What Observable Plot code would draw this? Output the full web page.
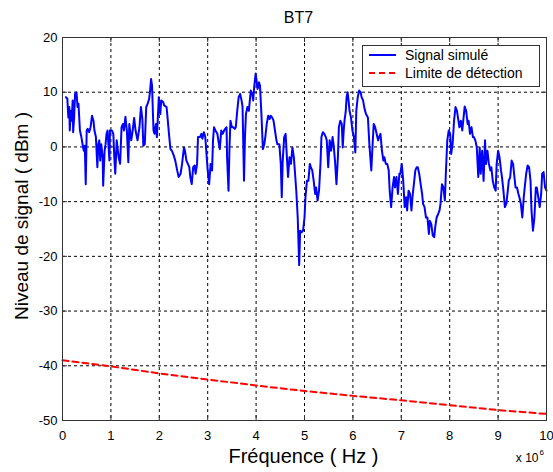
<!DOCTYPE html>
<html>
<head>
<meta charset="utf-8">
<script src="https://cdn.jsdelivr.net/npm/d3@7"></script>
<script src="https://cdn.jsdelivr.net/npm/@observablehq/plot@0.6"></script>
<style>
  html, body { margin: 0; padding: 0; background: #fff; }
  #wrap { position: relative; width: 553px; height: 472px; font-family: "Liberation Sans", Arial, sans-serif; }
  #legend { position: absolute; left: 362px; top: 45px; width: 178px; height: 42px; box-sizing: border-box;
            border: 1px solid #333; background: #fff; font-size: 14px; color: #000; }
  #legend .row { position: absolute; left: 0; height: 18px; display: flex; align-items: center; white-space: nowrap; }
  #legend svg { margin-left: 6px; margin-right: 9px; }
</style>
</head>
<body>
<div id="wrap"><div id="chart"></div><div id="legend"></div></div>
<script>
const title = "BT7";
const xLabel = "Fréquence ( Hz )";
const yLabel = "Niveau de signal ( dBm )";
const xExponent = ["x 10", "6"];
const xTicks = [0, 1, 2, 3, 4, 5, 6, 7, 8, 9, 10];
const yTicks = [-50, -40, -30, -20, -10, 0, 10, 20];
const seriesNames = ["Signal simulé", "Limite de détection"];
const seriesColors = ["#0000ff", "#ff0000"];

// frequency in units of 10^6 Hz
const signalFreq = [
  0.07,0.10,0.12,0.14,0.15,0.17,0.19,0.21,0.22,0.24,
  0.26,0.29,0.31,0.33,0.36,0.39,0.42,0.44,0.46,0.48,
  0.50,0.52,0.55,0.58,0.61,0.64,0.66,0.69,0.72,0.74,
  0.76,0.78,0.80,0.83,0.84,0.87,0.89,0.91,0.93,0.97,
  0.98,1.02,1.05,1.07,1.09,1.12,1.16,1.19,1.22,1.25,
  1.27,1.30,1.33,1.36,1.38,1.42,1.45,1.48,1.51,1.55,
  1.59,1.62,1.65,1.67,1.70,1.73,1.76,1.79,1.81,1.83,
  1.85,1.88,1.90,1.93,1.95,1.97,1.99,2.02,2.04,2.08,
  2.10,2.15,2.17,2.20,2.23,2.26,2.30,2.33,2.37,2.40,
  2.44,2.47,2.51,2.53,2.56,2.59,2.62,2.64,2.67,2.70,
  2.73,2.75,2.78,2.80,2.84,2.87,2.89,2.92,2.95,2.98,
  3.00,3.03,3.06,3.09,3.11,3.13,3.16,3.20,3.22,3.25,
  3.28,3.31,3.34,3.36,3.39,3.40,3.43,3.45,3.47,3.50,
  3.53,3.56,3.58,3.61,3.64,3.67,3.70,3.72,3.75,3.77,
  3.79,3.82,3.85,3.89,3.92,3.94,3.96,3.99,4.01,4.03,
  4.06,4.08,4.11,4.14,4.17,4.19,4.22,4.25,4.28,4.30,
  4.33,4.36,4.39,4.42,4.44,4.48,4.51,4.53,4.55,4.58,
  4.61,4.64,4.66,4.69,4.72,4.75,4.78,4.80,4.83,4.86,
  4.89,4.91,4.94,4.97,5.00,5.02,5.05,5.08,5.11,
  5.13,5.16,5.19,5.22,5.24,5.27,5.30,5.33,5.35,5.38,
  5.41,5.44,5.46,5.49,5.52,5.55,5.58,5.60,5.63,5.66,
  5.69,5.71,5.74,5.77,5.79,5.81,5.83,5.85,5.87,5.89,
  5.91,5.93,5.96,5.99,6.02,6.05,6.07,6.10,6.13,6.16,
  6.18,6.21,6.24,6.27,6.31,6.34,6.38,6.40,6.43,6.46,
  6.49,6.52,6.54,6.57,6.60,6.63,6.65,6.68,6.71,6.74,
  6.76,6.79,6.82,6.85,6.87,6.90,6.93,6.96,6.98,7.01,
  7.04,7.07,7.10,7.12,7.15,7.18,7.21,7.23,7.26,7.29,
  7.32,7.34,7.37,7.40,7.43,7.45,7.48,7.51,7.54,7.57,
  7.59,7.62,7.65,7.68,7.70,7.73,7.76,7.79,7.81,7.84,
  7.87,7.90,7.92,7.95,7.98,8.01,8.03,8.06,8.09,8.12,
  8.15,8.17,8.20,8.23,8.26,8.28,8.31,8.34,8.37,8.39,
  8.42,8.45,8.48,8.50,8.53,8.56,8.59,8.62,8.64,8.67,
  8.70,8.73,8.75,8.78,8.81,8.84,8.86,8.89,8.92,8.95,
  8.97,9.00,9.03,9.06,9.08,9.11,9.14,9.17,9.20,9.22,
  9.25,9.28,9.31,9.33,9.36,9.39,9.42,9.44,9.47,9.50,
  9.53,9.55,9.58,9.61,9.64,9.67,9.69,9.72,9.75,9.78,
  9.80,9.83,9.86,9.89,9.91,9.94,9.97,10.00
];

// simulated signal level in dBm
const signalLevel = [
  9.1,8.8,5.4,7.3,3.0,6.6,4.8,8.5,2.7,5.4,
  9.7,10.0,7.3,7.9,3.0,1.8,0.2,-0.7,0.2,-6.8,
  3.0,3.3,2.7,3.6,5.7,4.8,3.0,1.8,-3.7,0.5,
  1.2,-2.5,0.5,-1.9,-7.1,-0.7,0.5,2.4,3.0,-2.5,
  3.0,3.0,2.4,-1.9,-4.9,1.2,-1.9,-3.1,3.6,4.2,
  3.0,5.5,3.0,-2.8,4.2,1.2,3.0,5.3,3.0,1.2,
  3.6,7.3,5.1,0.2,0.5,7.3,7.9,8.8,10.3,12.4,
  11.2,3.0,2.4,4.2,1.8,5.4,9.1,6.0,8.5,8.2,
  7.6,7.3,5.4,2.4,-0.4,-0.7,-1.6,-2.5,-4.3,-5.5,
  -4.9,-3.1,-0.1,-0.7,-2.5,-3.1,-3.7,-5.5,-6.8,-3.7,
  -3.4,-4.9,-3.1,1.8,1.8,2.4,1.5,2.7,1.8,-1.9,
  -4.3,-6.8,-3.1,-4.3,1.2,3.6,3.0,2.4,1.2,-0.4,
  3.0,2.4,3.0,3.3,3.6,-1.9,-8.0,-0.1,4.8,3.6,
  3.6,3.3,3.6,6.6,9.1,9.7,8.5,7.3,-6.2,1.8,
  6.0,7.3,6.6,10.3,9.7,8.5,10.9,13.4,12.1,10.6,
  11.8,11.2,6.0,-0.4,0.5,1.8,4.2,5.7,5.1,5.7,
  5.4,4.8,3.0,1.2,0.5,0.5,-3.1,-9.2,-2.5,1.8,
  2.4,-2.5,-5.5,-1.9,-3.1,-0.1,-1.9,-4.3,-8.0,-12.9,
  -21.6,-15.3,-15.6,-15.3,-12.9,-9.2,-6.2,-6.2,-3.1,
  -3.7,-4.3,-6.2,-8.6,-7.4,-9.8,-8.0,-3.1,1.8,2.7,
  2.4,1.8,1.2,-3.7,1.2,-0.7,1.8,0.5,-2.5,-6.8,
  -1.9,3.6,4.8,4.2,-0.1,3.0,5.1,6.3,9.1,10.0,
  8.5,6.6,5.4,3.0,1.8,-1.0,6.6,9.1,10.3,10.0,
  9.1,8.5,7.0,6.0,5.4,0.5,-4.3,-0.7,4.2,3.6,
  2.4,1.2,1.8,2.4,-0.7,-2.5,-1.9,-3.1,-3.1,-4.3,
  -8.0,-11.0,-7.4,-5.5,-7.4,-5.5,-8.6,-4.9,-4.9,-3.1,
  -6.2,-11.0,-9.2,-11.6,-8.0,-8.6,-11.6,-9.2,-6.8,-4.3,
  -3.7,-3.7,-4.9,-6.8,-8.6,-10.4,-11.0,-12.9,-12.9,-15.9,
  -13.5,-14.1,-16.2,-16.5,-14.7,-12.9,-12.3,-11.6,-10.4,-6.8,
  -7.4,-9.8,-4.9,1.2,3.0,2.4,-1.3,0.5,4.8,7.3,
  6.6,5.4,3.6,4.8,3.0,4.8,7.4,6.6,4.2,4.8,
  2.4,3.6,1.8,1.8,1.2,-0.1,-5.5,-0.1,-4.9,-0.7,
  -6.2,1.2,-3.1,-0.7,-3.1,-4.3,-3.7,-6.2,-7.4,-8.0,
  -3.1,-0.7,-1.9,-4.3,-5.5,-8.0,-11.0,-10.4,-8.0,-6.2,
  -5.5,-2.5,-3.1,-4.9,-7.4,-7.4,-8.6,-9.2,-10.4,-12.9,
  -9.2,-7.4,-4.9,-3.4,-3.7,-6.2,-11.6,-15.3,-12.9,-7.4,
  -7.4,-9.2,-11.0,-8.6,-4.9,-4.6,-7.4,-8.0
];

// detection limit
const limitFreq = [0, 1, 2, 3, 4, 5, 6, 7, 8, 9, 10];
const limitLevel = [-39.0, -40.1, -41.4, -42.5, -43.6, -44.6, -45.5, -46.3, -47.2, -48.1, -48.8];

const signalData = signalFreq.map((f, i) => ({f, v: signalLevel[i]}));
const limitData = limitFreq.map((f, i) => ({f, v: limitLevel[i]}));

const W = 553, H = 472, mL = 62, mR = 7, mT = 37, mB = 52;
const innerH = H - mT - mB, innerW = W - mL - mR;
const tick = 5;

const chart = Plot.plot({
  width: W, height: H,
  marginLeft: mL, marginRight: mR, marginTop: mT, marginBottom: mB,
  style: {fontFamily: "'Liberation Sans', Arial, sans-serif", fontSize: "13px", background: "#fff", color: "#000", overflow: "visible"},
  x: {domain: [0, 10], label: null},
  y: {domain: [-50, 20], label: null},
  marks: [
    Plot.gridX(xTicks, {stroke: "#000", strokeOpacity: 1, strokeDasharray: "3,3"}),
    Plot.gridY(yTicks, {stroke: "#000", strokeOpacity: 1, strokeDasharray: "3,3"}),
    Plot.tickX(xTicks, {x: d => d, stroke: "#333", insetTop: innerH - tick}),
    Plot.tickX(xTicks, {x: d => d, stroke: "#333", insetBottom: innerH - tick}),
    Plot.tickY(yTicks, {y: d => d, stroke: "#333", insetRight: innerW - tick}),
    Plot.tickY(yTicks, {y: d => d, stroke: "#333", insetLeft: innerW - tick}),
    Plot.line(signalData, {x: "f", y: "v", stroke: seriesColors[0], strokeWidth: 2, strokeLinejoin: "round"}),
    Plot.line(limitData, {x: "f", y: "v", stroke: seriesColors[1], strokeWidth: 2, strokeDasharray: "6,4"}),
    Plot.frame({stroke: "#333"}),
    Plot.axisX(xTicks, {tickSize: 0, tickPadding: 10, tickFormat: d => String(d), label: null, fontSize: 13}),
    Plot.axisY(yTicks, {tickSize: 0, tickPadding: 5, tickFormat: d => String(d), label: null, fontSize: 13}),
    Plot.text([title], {text: d => d, frameAnchor: "top", textAnchor: "middle", lineAnchor: "top", dx: -6, dy: -26, fontSize: 16}),
    Plot.text([xLabel], {text: d => d, frameAnchor: "bottom", textAnchor: "middle", lineAnchor: "bottom", dx: -1, dy: 42, fontSize: 20}),
    Plot.text([yLabel], {text: d => d, frameAnchor: "left", textAnchor: "middle", lineAnchor: "middle", rotate: -90, dx: -41, dy: -13, fontSize: 19}),
    Plot.text([xExponent[0]], {text: d => d, frameAnchor: "bottom-right", textAnchor: "end", lineAnchor: "bottom", dx: -8, dy: 41, fontSize: 12}),
    Plot.text([xExponent[1]], {text: d => d, frameAnchor: "bottom-right", textAnchor: "start", lineAnchor: "bottom", dx: -7, dy: 34, fontSize: 8})
  ]
});
document.getElementById("chart").appendChild(chart);

// legend
const legend = document.getElementById("legend");
const rowTops = [0, 18];
seriesNames.forEach((name, i) => {
  const row = document.createElement("div");
  row.className = "row";
  row.style.top = rowTops[i] + "px";
  const dash = i === 1 ? ' stroke-dasharray="6,4"' : '';
  row.innerHTML = `<svg width="27" height="4"><line x1="0" y1="2" x2="27" y2="2" stroke="${seriesColors[i]}" stroke-width="2"${dash}/></svg><span>${name}</span>`;
  legend.appendChild(row);
});
</script>
</body>
</html>
